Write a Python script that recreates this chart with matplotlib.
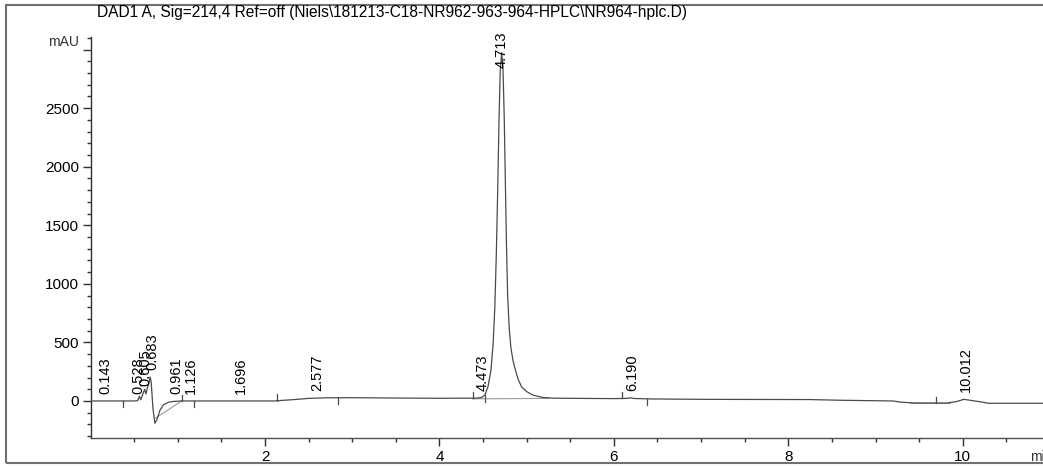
import numpy as np
import matplotlib
matplotlib.use("Agg")
import matplotlib.pyplot as plt
from matplotlib.patches import Rectangle
from matplotlib.ticker import MultipleLocator, FixedLocator

plt.rcParams['font.family'] = ['Liberation Sans', 'DejaVu Sans']

title = r"DAD1 A, Sig=214,4 Ref=off (Niels\181213-C18-NR962-963-964-HPLC\NR964-hplc.D)"

# Chromatogram trace: retention time (min) and absorbance (mAU)
time_min = [
    0.00, 0.50, 0.54, 0.56, 0.575, 0.60, 0.62, 0.635, 0.65, 0.67, 0.683, 0.695,
    0.715, 0.737, 0.759, 0.797, 0.835, 0.892, 0.949, 1.045, 1.20, 2.10, 2.30,
    2.50, 2.70, 3.00, 3.50, 4.00, 4.40, 4.45, 4.49, 4.52, 4.556, 4.59, 4.615,
    4.635, 4.652, 4.668, 4.683, 4.697, 4.713, 4.728, 4.742, 4.755, 4.768, 4.782,
    4.80, 4.82, 4.845, 4.865, 4.90, 4.942, 5.00, 5.072, 5.186, 5.30, 5.60, 6.00,
    6.15, 6.19, 6.23, 6.45, 7.00, 7.50, 8.25, 8.60, 9.20, 9.30, 9.45, 9.82,
    9.93, 10.012, 10.20, 10.30, 10.92,
]
absorbance = [
    0, 0, 3, 40, 10, 60, 100, 60, 110, 150, 205, 160,
    -60, -190, -162, -77, -34, -11, -4, 0, 0, 0, 10,
    22, 27, 28, 25, 23, 24, 26, 32, 50, 120, 260, 480,
    800, 1250, 1800, 2400, 2820, 2975, 2850, 2450, 1900, 1350, 900,
    620, 450, 340, 280, 190, 120, 80, 50, 30, 24, 22, 20,
    22, 27, 21, 17, 14, 13, 12, 6, 0, -11, -17, -17,
    -5, 14, -7, -20, -20,
]

# Integrated peaks (retention times, min)
peak_rt = [0.143, 0.528, 0.605, 0.683, 0.961, 1.126, 1.696, 2.577,
           4.473, 4.713, 6.190, 10.012]

# Integration event marks: time (min) and side of the trace (+1 above, -1 below)
event_rt = [0.376, 1.045, 1.186, 2.134, 2.84, 4.38, 4.52, 6.09, 6.38, 9.69]
event_side = [-1, 1, -1, 1, -1, 1, -1, 1, -1, 1]

# Integration baselines: (t0, y0, t1, y1)
base_t0 = [0.737, 4.38, 9.40]
base_y0 = [-150, 18, -17]
base_t1 = [1.045, 5.25, 9.85]
base_y1 = [0, 22, -17]

W, H = 1043, 466
fig = plt.figure(figsize=(W / 100, H / 100), dpi=100)
fig.patch.set_facecolor('white')

ax_left, ax_bottom, ax_top = 91, 437.5, 37
ax = fig.add_axes([ax_left / W, 1 - ax_bottom / H, 1 - ax_left / W,
                   (ax_bottom - ax_top) / H])
ax.set_xlim(0.005, 10.92)
ax.set_ylim(-312, 3108)

trace_color = '#4a4a4a'
ax.plot(time_min, absorbance, color=trace_color, lw=0.9, zorder=3)

for t0, y0, t1, y1 in zip(base_t0, base_y0, base_t1, base_y1):
    ax.plot([t0, t1], [y0, y1], color='#9a9a9a', lw=0.8, zorder=2)

# event marks, drawn as short strokes next to the trace
for t, s in zip(event_rt, event_side):
    y = np.interp(t, time_min, absorbance)
    ax.plot([t, t], [y, y + s * 55], color=trace_color, lw=0.9, zorder=3)

# retention time labels
label_top_limit = 2840
for rt in peak_rt:
    y = np.interp(rt, time_min, absorbance)
    if y > label_top_limit:
        ax.text(rt, label_top_limit, f"{rt:.3f}", rotation=90, ha='center',
                va='bottom', fontsize=10.5, color='black', zorder=4,
                transform=ax.transData)
    else:
        ax.annotate(f"{rt:.3f}", (rt, y), xytext=(1.5, 5),
                    textcoords='offset points', rotation=90, ha='center',
                    va='bottom', fontsize=10.5, color='black', zorder=4)

# axes styling
for side in ('top', 'right'):
    ax.spines[side].set_visible(False)
ax.spines['left'].set_color('#303030')
ax.spines['bottom'].set_color('#505050')
ax.spines['left'].set_linewidth(1.0)
ax.spines['bottom'].set_linewidth(1.0)

ax.xaxis.set_major_locator(FixedLocator([2, 4, 6, 8, 10]))
ax.xaxis.set_minor_locator(MultipleLocator(0.5))
ax.yaxis.set_major_locator(FixedLocator([0, 500, 1000, 1500, 2000, 2500, 3000]))
ax.yaxis.set_minor_locator(MultipleLocator(100))
ax.set_yticklabels(['0', '500', '1000', '1500', '2000', '2500', ''])

ax.tick_params(axis='both', which='major', direction='out', length=6,
               width=1.0, color='#303030', labelsize=11, labelcolor='black')
ax.tick_params(axis='both', which='minor', direction='out', length=3,
               width=1.0, color='#303030')
ax.tick_params(axis='y', which='major', pad=2.5)
ax.tick_params(axis='x', which='major', pad=3)

fig.text(79 / W, 1 - 42 / H, 'mAU', ha='right', va='center', fontsize=10,
         color='#333333')
fig.text(1030 / W, 1 - 457 / H, 'min', ha='left', va='center', fontsize=10,
         color='#333333')
fig.text(97 / W, 1 - 13 / H, title, ha='left', va='center', fontsize=11.2,
         color='black')

# outer frame of the report
fig.add_artist(Rectangle((5.5 / W, 3 / H), 1.2, (463 - 4.5) / H,
                         transform=fig.transFigure, fill=False,
                         ec='#707070', lw=1.5, clip_on=False))

fig.savefig('out.png', dpi=100, facecolor='white')
